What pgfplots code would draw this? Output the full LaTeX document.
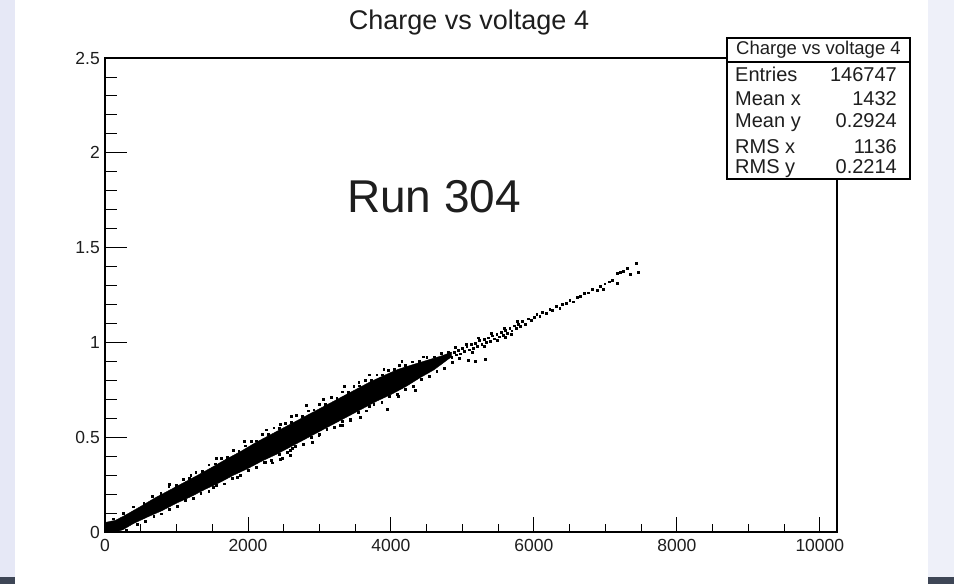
\documentclass[border=0pt]{standalone}
\usepackage{fontspec}
\setmainfont{Liberation Sans}
\usepackage{pgfplots}
\pgfplotsset{compat=1.18}
\definecolor{lav}{HTML}{E6E8F6}
\definecolor{lavr}{HTML}{EEF0F9}
\definecolor{darkb}{HTML}{3E4656}
\definecolor{txt}{HTML}{1E1E1E}
\begin{document}
\begin{tikzpicture}[x=1pt,y=1pt]
\useasboundingbox (0,0) rectangle (954,584);
\fill[white] (0,0) rectangle (954,584);
\fill[lav] (0,0) rectangle (15,584);
\fill[lavr] (928,0) rectangle (954,584);
\fill[darkb] (0,0) rectangle (15,7);
\fill[darkb] (928,0) rectangle (954,7);
% main axis: frame, y ticks, data
\begin{axis}[
  at={(105pt,52pt)}, anchor=south west,
  scale only axis, width=732pt, height=474pt,
  xmin=0, xmax=10240, ymin=0, ymax=2.5,
  xtick=\empty,
  ytick={0,0.5,1,1.5,2,2.5},
  minor y tick num=4,
  ytick pos=left,
  tick align=inside,
  major tick length=22pt, minor tick length=12pt,
  tick style={line width=0.9pt, black},
  axis line style={line width=1.2pt, black},
  /pgf/number format/assume math mode=true,
  yticklabel style={font=\fontsize{17.5}{20}\selectfont, text=txt, inner sep=0pt, xshift=-5pt},
  clip=true,
]
\addplot[fill=black, draw=black, line width=0.4pt] coordinates {
(0,0.05)(150,0.062)(300,0.092)(500,0.135)(700,0.18)(900,0.22)(1100,0.26)(1300,0.30)(1500,0.342)(1700,0.385)(1900,0.425)(2100,0.47)(2300,0.51)(2500,0.55)(2700,0.59)(2900,0.63)(3100,0.67)(3300,0.71)(3500,0.75)(3700,0.79)(3900,0.825)(4100,0.858)(4300,0.882)(4500,0.905)(4700,0.928)(4850,0.948)
(4850,0.925)(4600,0.855)(4400,0.812)(4200,0.765)(4000,0.725)(3800,0.69)(3600,0.65)(3400,0.61)(3200,0.57)(3000,0.53)(2800,0.49)(2600,0.45)(2400,0.41)(2200,0.375)(2000,0.335)(1800,0.30)(1600,0.26)(1400,0.225)(1200,0.186)(1000,0.152)(800,0.113)(600,0.08)(400,0.045)(250,0.012)(150,0.0)(0,0.0)
} -- cycle;
\addplot[only marks, mark=square*, mark size=0.9pt, black] coordinates {
(120,0.07)(260,0.098)(400,0.133)(540,0.15)(660,0.19)(780,0.205)(890,0.24)(1000,0.248)(1090,0.28)(1180,0.285)(1270,0.315)(1360,0.32)(1450,0.355)(1540,0.36)(1620,0.39)(1710,0.395)(1790,0.43)(1870,0.428)(1960,0.455)(2040,0.48)(2120,0.482)(2200,0.515)(2280,0.515)(2360,0.55)(2440,0.546)(2520,0.575)(2600,0.58)(2680,0.615)(2760,0.61)(2840,0.64)(2920,0.645)(3000,0.675)(3080,0.675)(3160,0.71)(3240,0.705)(3320,0.74)(3400,0.738)(3480,0.77)(3560,0.772)(3640,0.80)(3720,0.802)(3800,0.83)(3880,0.83)(3960,0.855)(4040,0.858)(4120,0.88)(4200,0.88)(4300,0.898)(4400,0.902)(4500,0.92)(4600,0.925)(4700,0.945)(4800,0.95)
(1560,0.39)(2250,0.54)(2820,0.67)(3350,0.77)(3900,0.86)(2600,0.61)(1950,0.48)(3700,0.83)(4150,0.90)(3050,0.70)(1200,0.30)(900,0.25)(2450,0.57)(3550,0.79)(4450,0.925)
(300,0.01)(450,0.04)(560,0.058)(680,0.082)(790,0.097)(900,0.122)(1010,0.137)(1120,0.167)(1230,0.177)(1340,0.205)(1450,0.215)(1560,0.245)(1670,0.255)(1780,0.285)(1890,0.30)(2000,0.325)(2110,0.34)(2220,0.37)(2330,0.38)(2440,0.41)(2550,0.42)(2660,0.452)(2770,0.465)(2880,0.498)(2990,0.508)(3100,0.542)(3210,0.552)(3320,0.585)(3430,0.595)(3540,0.63)(3650,0.64)(3760,0.674)(3870,0.685)(3980,0.715)(4090,0.725)(4200,0.755)(4310,0.77)(4420,0.805)(4530,0.82)(4640,0.85)(4750,0.865)(4860,0.895)
(2588,0.432)(2588,0.405)(2238,0.37)(2336,0.365)(2448,0.385)(2896,0.475)(3316,0.565)(1511,0.237)(3945,0.649)(2616,0.44)(2476,0.39)(3567,0.607)(3428,0.59)(3288,0.565)(5316,0.912)(5176,0.902)(5078,0.907)(4337,0.749)(5596,1.028)(1850,0.29)(3000,0.515)(3700,0.665)(4100,0.715)
(4820,0.945)(4850,0.92)(4880,0.95)(4910,0.935)(4940,0.96)(4970,0.94)(5000,0.97)(5030,0.952)(5060,0.978)(5090,0.962)(5120,0.99)(5150,0.97)(5180,0.995)(5210,0.98)(5240,1.01)(5270,0.99)(5300,1.015)(5330,1.0)(5360,1.025)(5390,1.008)(5420,1.035)(5450,1.02)(5480,1.045)(5510,1.03)(5540,1.055)(5570,1.04)(5600,1.065)(5630,1.05)(5660,1.075)(5690,1.062)(5720,1.088)(5750,1.075)(5780,1.098)(5810,1.085)
(4900,0.975)(4960,0.918)(5050,0.99)(5140,0.95)(5220,1.025)(5310,0.978)(5400,1.048)(5490,1.012)(5580,1.075)(5680,1.045)(5770,1.11)
(5840,1.11)(5880,1.098)(5920,1.125)(5960,1.118)(6000,1.135)(6040,1.15)(6080,1.138)(6120,1.16)(6170,1.152)(6220,1.175)(6260,1.168)(6310,1.19)(6360,1.18)(6400,1.2)(6450,1.208)(6500,1.222)(6550,1.215)(6600,1.238)(6650,1.245)(6700,1.26)(6760,1.262)(6820,1.28)(6880,1.275)(6930,1.295)(6990,1.31)(7050,1.32)(7100,1.33)(7250,1.375)
(6967,1.282)(7163,1.313)(7457,1.371)(7429,1.419)(7345,1.36)(7303,1.392)(7205,1.371)(7163,1.366)
};
\end{axis}
% x ticks axis
\begin{axis}[
  at={(105pt,52pt)}, anchor=south west,
  scale only axis, width=732pt, height=474pt,
  xmin=0, xmax=10240, ymin=0, ymax=2.5,
  axis line style={draw=none},
  ytick=\empty,
  xtick={0,2000,4000,6000,8000,10000},
  scaled x ticks=false,
  minor x tick num=3,
  xtick pos=left,
  tick align=inside,
  major tick length=15pt, minor tick length=8pt,
  tick style={line width=0.9pt, black},
  /pgf/number format/assume math mode=true,
  /pgf/number format/set thousands separator={},
  xticklabel style={font=\fontsize{17.5}{20}\selectfont, text=txt, inner sep=0pt, yshift=-7pt},
]
\end{axis}
% title
\node[anchor=base, text=txt, font=\fontsize{27}{30}\selectfont, inner sep=0pt] at (469,554) {Charge vs voltage 4};
% Run label
\node[anchor=base west, text=txt, font=\fontsize{46}{50}\selectfont, inner sep=0pt] at (347,371) {Run 304};
% stats box
\fill[white] (727,405) rectangle (910,546);
\draw[black, line width=1.1pt] (727,405) rectangle (910,546);
\draw[black, line width=1.1pt] (727,522) -- (910,522);
\node[anchor=base, text=txt, font=\fontsize{18.5}{20}\selectfont, inner sep=0pt] at (818.5,529) {Charge vs voltage 4};
\begin{scope}[every node/.style={inner sep=0pt, text=txt, font=\fontsize{20}{22}\selectfont}]
\node[anchor=base west] at (735,502) {Entries};
\node[anchor=base east] at (897,502) {146747};
\node[anchor=base west] at (735,478) {Mean x};
\node[anchor=base east] at (897,478) {1432};
\node[anchor=base west] at (735,456) {Mean y};
\node[anchor=base east] at (897,456) {0.2924};
\node[anchor=base west] at (735,430) {RMS x};
\node[anchor=base east] at (897,430) {1136};
\node[anchor=base west] at (735,410) {RMS y};
\node[anchor=base east] at (897,410) {0.2214};
\end{scope}
\end{tikzpicture}
\end{document}
